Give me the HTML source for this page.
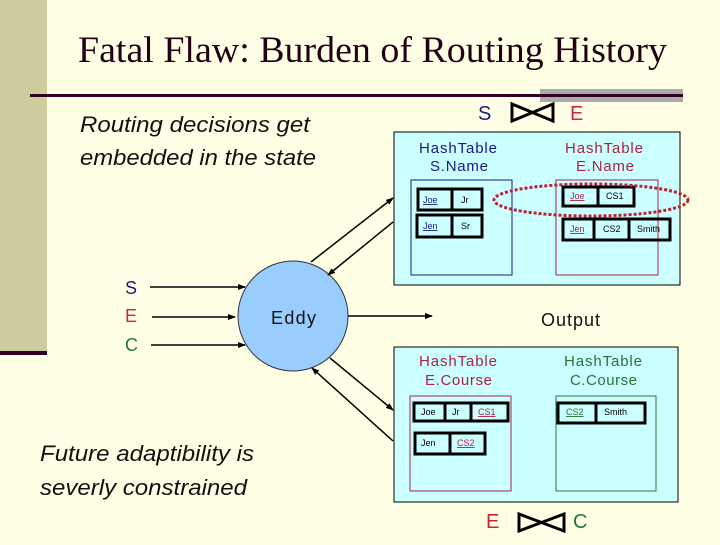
<!DOCTYPE html>
<html><head><style>
body{margin:0;width:720px;height:540px;overflow:hidden;background:#ffffe6;font-family:"Liberation Sans",sans-serif;}
</style></head><body>
<svg width="720" height="540" xmlns="http://www.w3.org/2000/svg" font-family="Liberation Sans, sans-serif">
<defs><marker id="a" markerWidth="8" markerHeight="8" refX="7" refY="4" orient="auto" markerUnits="userSpaceOnUse"><path d="M0,1 L8,4 L0,7 z" fill="#000"/></marker></defs>
<rect x="0" y="0" width="720" height="540" fill="#ffffe6"/>
<rect x="0" y="0" width="47" height="353" fill="#cccc9f"/>
<rect x="0" y="351" width="47" height="4" fill="#330022"/>
<text x="78" y="62" font-family="Liberation Serif, serif" font-size="37" fill="#220015" textLength="589" lengthAdjust="spacingAndGlyphs">Fatal Flaw: Burden of Routing History</text>
<rect x="540" y="89" width="143" height="13" fill="#aaaaaa"/>
<rect x="30" y="94" width="653" height="3" fill="#330022"/>
<text x="80" y="132" font-size="22" font-style="italic" fill="#111" textLength="230" lengthAdjust="spacingAndGlyphs">Routing decisions get</text>
<text x="80" y="165" font-size="22" font-style="italic" fill="#111" textLength="236" lengthAdjust="spacingAndGlyphs">embedded in the state</text>
<text x="40" y="461" font-size="22" font-style="italic" fill="#111" textLength="214" lengthAdjust="spacingAndGlyphs">Future adaptibility is</text>
<text x="40" y="495" font-size="22" font-style="italic" fill="#111" textLength="207" lengthAdjust="spacingAndGlyphs">severly constrained</text>
<text x="478" y="120" font-size="20" fill="#1a1a88">S</text>
<path d="M512,104 L512,121 L553,104 L553,121 Z" fill="none" stroke="#000" stroke-width="3"/>
<text x="570" y="120" font-size="20" fill="#cc2255">E</text>
<rect x="394" y="132" width="286" height="153" fill="#ccffff" stroke="#000" stroke-width="1"/>
<text x="419" y="153" font-size="15" fill="#1a1a88" textLength="78">HashTable</text>
<text x="430" y="171" font-size="15" fill="#1a1a88" textLength="58">S.Name</text>
<text x="565" y="153" font-size="15" fill="#aa2244" textLength="78">HashTable</text>
<text x="576" y="171" font-size="15" fill="#aa2244" textLength="58">E.Name</text>
<rect x="411" y="180" width="101" height="95" fill="none" stroke="#1a1a88"/>
<rect x="556" y="180" width="102" height="95" fill="none" stroke="#aa2244"/>
<g stroke="#000" stroke-width="3" fill="none">
<rect x="418" y="189" width="64" height="21"/><line x1="452" y1="189" x2="452" y2="210"/>
<rect x="417" y="215" width="65" height="22"/><line x1="452" y1="215" x2="452" y2="237"/>
<rect x="563" y="187" width="71" height="19"/><line x1="598" y1="187" x2="598" y2="206"/>
<rect x="563" y="219" width="107" height="21"/><line x1="594" y1="219" x2="594" y2="240"/><line x1="629" y1="219" x2="629" y2="240"/>
</g>
<g font-size="9">
<text x="423" y="203" fill="#1a1a88" text-decoration="underline">Joe</text><text x="461" y="203">Jr</text>
<text x="423" y="229" fill="#1a1a88" text-decoration="underline">Jen</text><text x="461" y="229">Sr</text>
<text x="570" y="199" fill="#aa2244" text-decoration="underline">Joe</text><text x="606" y="199">CS1</text>
<text x="570" y="232" fill="#aa2244" text-decoration="underline">Jen</text><text x="603" y="232">CS2</text><text x="637" y="232">Smith</text>
</g>
<ellipse cx="591" cy="200" rx="97" ry="16" fill="none" stroke="#bb2233" stroke-width="3" stroke-dasharray="3,2"/>
<rect x="394" y="347" width="284" height="155" fill="#ccffff" stroke="#000" stroke-width="1"/>
<text x="419" y="366" font-size="15" fill="#aa2244" textLength="78">HashTable</text>
<text x="425" y="385" font-size="15" fill="#aa2244" textLength="67">E.Course</text>
<text x="564" y="366" font-size="15" fill="#227733" textLength="78">HashTable</text>
<text x="570" y="385" font-size="15" fill="#227733" textLength="67">C.Course</text>
<rect x="410" y="396" width="101" height="95" fill="none" stroke="#aa2244"/>
<rect x="556" y="396" width="100" height="95" fill="none" stroke="#227733"/>
<g stroke="#000" stroke-width="3" fill="none">
<rect x="414" y="403" width="94" height="18"/><line x1="445" y1="403" x2="445" y2="421"/><line x1="471" y1="403" x2="471" y2="421"/>
<rect x="415" y="433" width="70" height="21"/><line x1="450" y1="433" x2="450" y2="454"/>
<rect x="558" y="403" width="87" height="20"/><line x1="596" y1="403" x2="596" y2="423"/>
</g>
<g font-size="9">
<text x="421" y="415">Joe</text><text x="452" y="415">Jr</text><text x="478" y="415" fill="#aa2244" text-decoration="underline">CS1</text>
<text x="421" y="446">Jen</text><text x="457" y="446" fill="#aa2244" text-decoration="underline">CS2</text>
<text x="566" y="415" fill="#227733" text-decoration="underline">CS2</text><text x="604" y="415">Smith</text>
</g>
<text x="486" y="528" font-size="20" fill="#cc2233">E</text>
<path d="M519,514 L519,531 L564,514 L564,531 Z" fill="none" stroke="#000" stroke-width="3"/>
<text x="573" y="528" font-size="20" fill="#227733">C</text>
<text x="541" y="326" font-size="18" fill="#111" textLength="59">Output</text>
<circle cx="293" cy="316" r="55" fill="#99ccff" stroke="#333" stroke-width="1"/>
<text x="271" y="324" font-size="18" fill="#111" textLength="45">Eddy</text>
<text x="125" y="294" font-size="18" fill="#1a1a88" textLength="13">S</text>
<text x="125" y="322" font-size="18" fill="#cc2255" textLength="13">E</text>
<text x="125" y="351" font-size="18" fill="#227733" textLength="14">C</text>
<g stroke="#000" stroke-width="1.5" marker-end="url(#a)">
<line x1="150" y1="287" x2="245" y2="287"/>
<line x1="152" y1="317" x2="235" y2="317"/>
<line x1="151" y1="345" x2="245" y2="345"/>
<line x1="348" y1="316" x2="432" y2="316"/>
<line x1="311" y1="262" x2="393" y2="198"/>
<line x1="393" y1="222" x2="328" y2="275"/>
<line x1="330" y1="358" x2="393" y2="410"/>
<line x1="393" y1="441" x2="312" y2="368"/>
</g>
</svg>
</body></html>
